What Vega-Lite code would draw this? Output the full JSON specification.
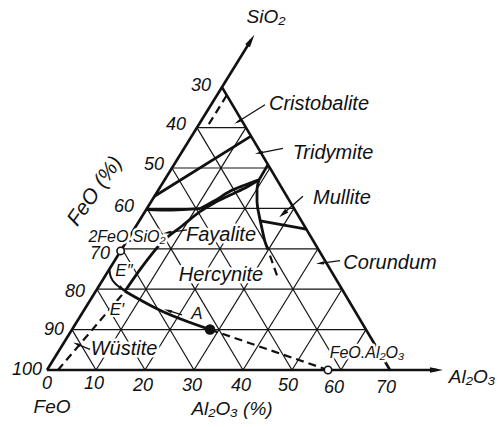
{
  "$schema": "https://vega.github.io/schema/vega-lite/v6.json",
  "width": 500,
  "height": 427,
  "autosize": "none",
  "padding": 0,
  "background": "white",
  "config": {"view": {"stroke": null}},
  "datasets": {
    "lines": [
      {"id": "g_s10", "k": "grid", "o": 1, "h": 5.1, "s": 10}, {"id": "g_s10", "k": "grid", "o": 2, "h": 65.1, "s": 10},
      {"id": "g_s20", "k": "grid", "o": 1, "h": 10.2, "s": 20}, {"id": "g_s20", "k": "grid", "o": 2, "h": 60.2, "s": 20},
      {"id": "g_s30", "k": "grid", "o": 1, "h": 15.3, "s": 30}, {"id": "g_s30", "k": "grid", "o": 2, "h": 55.3, "s": 30},
      {"id": "g_s40", "k": "grid", "o": 1, "h": 20.4, "s": 40}, {"id": "g_s40", "k": "grid", "o": 2, "h": 50.4, "s": 40},
      {"id": "g_s50", "k": "grid", "o": 1, "h": 25.5, "s": 50}, {"id": "g_s50", "k": "grid", "o": 2, "h": 45.5, "s": 50},
      {"id": "g_s60", "k": "grid", "o": 1, "h": 30.6, "s": 60}, {"id": "g_s60", "k": "grid", "o": 2, "h": 40.6, "s": 60},
      {"id": "g_a10", "k": "grid", "o": 1, "h": 10, "s": 0}, {"id": "g_a10", "k": "grid", "o": 2, "h": 40.6, "s": 60},
      {"id": "g_a20", "k": "grid", "o": 1, "h": 20, "s": 0}, {"id": "g_a20", "k": "grid", "o": 2, "h": 45.5, "s": 50},
      {"id": "g_a30", "k": "grid", "o": 1, "h": 30, "s": 0}, {"id": "g_a30", "k": "grid", "o": 2, "h": 50.4, "s": 40},
      {"id": "g_a40", "k": "grid", "o": 1, "h": 40, "s": 0}, {"id": "g_a40", "k": "grid", "o": 2, "h": 55.3, "s": 30},
      {"id": "g_a50", "k": "grid", "o": 1, "h": 50, "s": 0}, {"id": "g_a50", "k": "grid", "o": 2, "h": 60.2, "s": 20},
      {"id": "g_a60", "k": "grid", "o": 1, "h": 60, "s": 0}, {"id": "g_a60", "k": "grid", "o": 2, "h": 65.1, "s": 10},
      {"id": "g_c10", "k": "grid", "o": 1, "h": 10, "s": 0}, {"id": "g_c10", "k": "grid", "o": 2, "h": 5.1, "s": 10},
      {"id": "g_c20", "k": "grid", "o": 1, "h": 20, "s": 0}, {"id": "g_c20", "k": "grid", "o": 2, "h": 10.2, "s": 20},
      {"id": "g_c30", "k": "grid", "o": 1, "h": 30, "s": 0}, {"id": "g_c30", "k": "grid", "o": 2, "h": 15.3, "s": 30},
      {"id": "g_c40", "k": "grid", "o": 1, "h": 40, "s": 0}, {"id": "g_c40", "k": "grid", "o": 2, "h": 20.4, "s": 40},
      {"id": "g_c50", "k": "grid", "o": 1, "h": 50, "s": 0}, {"id": "g_c50", "k": "grid", "o": 2, "h": 25.5, "s": 50},
      {"id": "g_c60", "k": "grid", "o": 1, "h": 60, "s": 0}, {"id": "g_c60", "k": "grid", "o": 2, "h": 30.6, "s": 60},
      {"id": "e_left", "k": "edge", "o": 1, "h": 0, "s": 0}, {"id": "e_left", "k": "edge", "o": 2, "h": 41.63, "s": 81.63},
      {"id": "e_bottom", "k": "edge", "o": 1, "h": 0, "s": 0}, {"id": "e_bottom", "k": "edge", "o": 2, "h": 79.49, "s": 0},
      {"id": "e_right", "k": "edge", "o": 1, "h": 35.7, "s": 70}, {"id": "e_right", "k": "edge", "o": 2, "h": 70, "s": 0},
      {"id": "b_A", "k": "bound", "o": 1, "h": 21.93, "s": 43}, {"id": "b_A", "k": "bound", "o": 2, "h": 41.63, "s": 57.9},
      {"id": "b_B", "k": "bound", "o": 1, "h": 20.26, "s": 39.72}, {"id": "b_B", "k": "bound", "o": 2, "h": 25.51, "s": 39.57}, {"id": "b_B", "k": "bound", "o": 3, "h": 31.22, "s": 39.92},
      {"id": "b_U", "k": "bound", "o": 1, "h": 31.22, "s": 39.92}, {"id": "b_U", "k": "bound", "o": 2, "h": 34.29, "s": 41.96}, {"id": "b_U", "k": "bound", "o": 3, "h": 37.35, "s": 44.24}, {"id": "b_U", "k": "bound", "o": 4, "h": 40.41, "s": 45.78}, {"id": "b_U", "k": "bound", "o": 5, "h": 43.27, "s": 47.07},
      {"id": "b_L", "k": "bound", "o": 1, "h": 15.9, "s": 19.5}, {"id": "b_L", "k": "bound", "o": 2, "h": 18.98, "s": 24.85}, {"id": "b_L", "k": "bound", "o": 3, "h": 23.67, "s": 31.87}, {"id": "b_L", "k": "bound", "o": 4, "h": 27.55, "s": 35.65}, {"id": "b_L", "k": "bound", "o": 5, "h": 31.22, "s": 39.18}, {"id": "b_L", "k": "bound", "o": 6, "h": 34.29, "s": 41.46}, {"id": "b_L", "k": "bound", "o": 7, "h": 37.76, "s": 43.51}, {"id": "b_L", "k": "bound", "o": 8, "h": 40.82, "s": 45.3}, {"id": "b_L", "k": "bound", "o": 9, "h": 43.27, "s": 47.07},
      {"id": "b_T", "k": "bound", "o": 1, "h": 43.27, "s": 47.07}, {"id": "b_T", "k": "bound", "o": 2, "h": 45.09, "s": 50.83},
      {"id": "b_M", "k": "bound", "o": 1, "h": 43.27, "s": 47.07}, {"id": "b_M", "k": "bound", "o": 2, "h": 42.86, "s": 44.84}, {"id": "b_M", "k": "bound", "o": 3, "h": 42.86, "s": 41.62}, {"id": "b_M", "k": "bound", "o": 4, "h": 43.27, "s": 38.41}, {"id": "b_M", "k": "bound", "o": 5, "h": 43.88, "s": 34.96}, {"id": "b_M", "k": "bound", "o": 6, "h": 44.49, "s": 31.75}, {"id": "b_M", "k": "bound", "o": 7, "h": 45.1, "s": 29.78},
      {"id": "b_MC", "k": "bound", "o": 1, "h": 43.53, "s": 36.93}, {"id": "b_MC", "k": "bound", "o": 2, "h": 52.91, "s": 34.88},
      {"id": "b_W", "k": "bound", "o": 1, "h": 15.9, "s": 19.5}, {"id": "b_W", "k": "bound", "o": 2, "h": 23.06, "s": 14.78}, {"id": "b_W", "k": "bound", "o": 3, "h": 33.27, "s": 10.01},
      {"id": "b_E2", "k": "arc", "o": 1, "h": 12.74, "s": 24.98}, {"id": "b_E2", "k": "arc", "o": 2, "h": 12.86, "s": 23.0}, {"id": "b_E2", "k": "arc", "o": 3, "h": 13.88, "s": 21.29}, {"id": "b_E2", "k": "arc", "o": 4, "h": 15.1, "s": 20.3}, {"id": "b_E2", "k": "arc", "o": 5, "h": 15.9, "s": 19.5},
      {"id": "d_top", "k": "dash", "o": 1, "h": 36.68, "s": 68}, {"id": "d_top", "k": "dash", "o": 2, "h": 32.5, "s": 59.8},
      {"id": "d_left", "k": "dash", "o": 1, "h": 15.3, "s": 18.6}, {"id": "d_left", "k": "dash", "o": 2, "h": 2.24, "s": 0},
      {"id": "d_A", "k": "dash", "o": 1, "h": 33.27, "s": 10.01}, {"id": "d_A", "k": "dash", "o": 2, "h": 57.35, "s": 0},
      {"id": "d_M", "k": "dash", "o": 1, "h": 45.51, "s": 28.3}, {"id": "d_M", "k": "dash", "o": 2, "h": 46.94, "s": 23.38},
      {"id": "l_cr", "k": "leader", "o": 1, "h": 44.49, "s": 65.66}, {"id": "l_cr", "k": "leader", "o": 2, "h": 38.86, "s": 61.38},
      {"id": "l_tr", "k": "leader", "o": 1, "h": 48.16, "s": 54.84}, {"id": "l_tr", "k": "leader", "o": 2, "h": 43.24, "s": 53.68},
      {"id": "l_mu", "k": "leader", "o": 1, "h": 52.24, "s": 43.03}, {"id": "l_mu", "k": "leader", "o": 2, "h": 48.16, "s": 38.65},
      {"id": "l_co", "k": "leader", "o": 1, "h": 59.8, "s": 27.08}, {"id": "l_co", "k": "leader", "o": 2, "h": 55.71, "s": 26.39},
      {"id": "l_wu", "k": "leader", "o": 1, "h": 8.78, "s": 5.11}, {"id": "l_wu", "k": "leader", "o": 2, "h": 6.06, "s": 6.42},
      {"id": "l_fa", "k": "leader", "o": 1, "h": 28.57, "s": 34.68}, {"id": "l_fa", "k": "leader", "o": 2, "h": 24.49, "s": 33.98},
      {"id": "l_a", "k": "leader", "o": 1, "h": 27.55, "s": 13.62}, {"id": "l_a", "k": "leader", "o": 2, "h": 24.65, "s": 14.73}
    ],
    "heads": [
      {"id": "si", "h": 41.63, "s": 81.63},
      {"id": "al", "h": 79.49, "s": 0},
      {"id": "cr", "h": 38.86, "s": 61.38},
      {"id": "tr", "h": 43.24, "s": 53.68},
      {"id": "mu", "h": 48.16, "s": 38.65},
      {"id": "co", "h": 55.71, "s": 26.39},
      {"id": "wu", "h": 6.06, "s": 6.42},
      {"id": "fa", "h": 24.49, "s": 33.98},
      {"id": "a", "h": 24.65, "s": 14.73},
      {"id": "e2", "h": 15.41, "s": 20.0}
    ],
    "pts": [
      {"id": "2FeO.SiO2", "h": 15.03, "s": 29.48},
      {"id": "FeO.Al2O3", "h": 57.35, "s": 0},
      {"id": "A", "h": 33.27, "s": 10.01}
    ],
    "labels": [
      {"g": "phase", "t": "Cristobalite", "h": 55.51, "s": 65.86},
      {"g": "phase", "t": "Tridymite", "h": 58.37, "s": 53.78},
      {"g": "phase", "t": "Mullite", "h": 60.2, "s": 42.68},
      {"g": "phase", "t": "Corundum", "h": 70.0, "s": 26.52},
      {"g": "phase", "t": "Fayalite", "h": 35.51, "s": 33.32},
      {"g": "phase", "t": "Hercynite", "h": 35.51, "s": 23.42},
      {"g": "phase", "t": "Wüstite", "h": 15.71, "s": 5.24},
      {"g": "num", "t": "30", "h": 31.43, "s": 70.37},
      {"g": "num", "t": "40", "h": 26.33, "s": 60.63},
      {"g": "num", "t": "50", "h": 21.84, "s": 50.64},
      {"g": "num", "t": "60", "h": 15.71, "s": 40.39},
      {"g": "num", "t": "70", "h": 10.82, "s": 28.66},
      {"g": "num", "t": "80", "h": 5.71, "s": 19.41},
      {"g": "num", "t": "90", "h": 1.43, "s": 9.93},
      {"g": "num", "t": "100", "h": -4.08, "s": -0.07},
      {"g": "num", "t": "0", "h": 0, "s": -3.47},
      {"g": "num", "t": "10", "h": 9.59, "s": -3.54},
      {"g": "num", "t": "20", "h": 19.59, "s": -3.85},
      {"g": "num", "t": "30", "h": 29.59, "s": -3.92},
      {"g": "num", "t": "40", "h": 39.59, "s": -3.98},
      {"g": "num", "t": "50", "h": 49.18, "s": -4.06},
      {"g": "num", "t": "60", "h": 58.57, "s": -4.38},
      {"g": "num", "t": "70", "h": 69.18, "s": -4.43},
      {"g": "axis", "t": "SiO₂", "h": 44.69, "s": 87.45},
      {"g": "axis", "t": "Al₂O₃", "h": 86.73, "s": -1.64},
      {"g": "axis", "t": "FeO", "h": 1.02, "s": -9.14},
      {"g": "axis", "t": "Al₂O₃ (%)", "h": 37.76, "s": -9.71},
      {"g": "comp", "t": "2FeO.SiO₂", "h": 16.33, "s": 32.97},
      {"g": "comp", "t": "FeO.Al₂O₃", "h": 65.31, "s": 4.16},
      {"g": "pt", "t": "A", "h": 30.61, "s": 13.92},
      {"g": "pt", "t": "E″", "h": 15.71, "s": 24.54},
      {"g": "pt", "t": "E′", "h": 14.29, "s": 14.74},
      {"g": "rot", "t": "FeO (%)", "h": 9.8, "s": 44.24}
    ]
  },
  "encoding": {
    "x": {"field": "h", "type": "quantitative", "scale": {"domain": [-9.592, 92.449], "nice": false, "zero": false}, "axis": null},
    "y": {"field": "s", "type": "quantitative", "scale": {"domain": [-14.109, 91.584], "nice": false, "zero": false}, "axis": null}
  },
  "layer": [
    {"data": {"name": "lines"}, "transform": [{"filter": "datum.k == 'grid'"}],
     "mark": {"type": "line", "color": "#151515", "strokeWidth": 1.2},
     "encoding": {"detail": {"field": "id"}, "order": {"field": "o"}}},
    {"data": {"name": "lines"}, "transform": [{"filter": "datum.k == 'edge'"}],
     "mark": {"type": "line", "color": "#111111", "strokeWidth": 2.6},
     "encoding": {"detail": {"field": "id"}, "order": {"field": "o"}}},
    {"data": {"name": "lines"}, "transform": [{"filter": "datum.k == 'bound'"}],
     "mark": {"type": "line", "color": "#111111", "strokeWidth": 2.8, "strokeJoin": "round", "interpolate": "monotone"},
     "encoding": {"detail": {"field": "id"}, "order": {"field": "o"}}},
    {"data": {"name": "lines"}, "transform": [{"filter": "datum.k == 'arc'"}],
     "mark": {"type": "line", "color": "#111111", "strokeWidth": 2, "interpolate": "basis"},
     "encoding": {"detail": {"field": "id"}, "order": {"field": "o"}}},
    {"data": {"name": "lines"}, "transform": [{"filter": "datum.k == 'dash'"}],
     "mark": {"type": "line", "color": "#111111", "strokeWidth": 2.2, "strokeDash": [8, 5]},
     "encoding": {"detail": {"field": "id"}, "order": {"field": "o"}}},
    {"data": {"name": "labels"}, "transform": [{"filter": "datum.g == 'phase'"}],
     "mark": {"type": "text", "font": "Liberation Sans", "fontStyle": "italic", "fontSize": 20, "align": "center", "baseline": "middle", "fill": "white", "stroke": "white", "strokeWidth": 5, "strokeJoin": "round"},
     "encoding": {"text": {"field": "t"}}},
    {"data": {"name": "labels"}, "transform": [{"filter": "datum.g == 'comp'"}],
     "mark": {"type": "text", "font": "Liberation Sans", "fontStyle": "italic", "fontSize": 16, "align": "center", "baseline": "middle", "fill": "white", "stroke": "white", "strokeWidth": 5, "strokeJoin": "round"},
     "encoding": {"text": {"field": "t"}}},
    {"data": {"name": "labels"}, "transform": [{"filter": "datum.g == 'pt'"}],
     "mark": {"type": "text", "font": "Liberation Sans", "fontStyle": "italic", "fontSize": 17, "align": "center", "baseline": "middle", "fill": "white", "stroke": "white", "strokeWidth": 4, "strokeJoin": "round"},
     "encoding": {"text": {"field": "t"}}},
    {"data": {"name": "lines"}, "transform": [{"filter": "datum.k == 'leader'"}],
     "mark": {"type": "line", "color": "#111111", "strokeWidth": 1.3},
     "encoding": {"detail": {"field": "id"}, "order": {"field": "o"}}},
    {"data": {"name": "heads"}, "transform": [{"filter": "datum.id == 'si'"}],
     "mark": {"type": "point", "shape": "M0,-1L0.42,1L-0.42,1Z", "size": 170, "angle": 31.7, "filled": true, "color": "#111111", "opacity": 1}},
    {"data": {"name": "heads"}, "transform": [{"filter": "datum.id == 'al'"}],
     "mark": {"type": "point", "shape": "M0,-1L0.42,1L-0.42,1Z", "size": 170, "angle": 90, "filled": true, "color": "#111111", "opacity": 1}},
    {"data": {"name": "heads"}, "transform": [{"filter": "datum.id == 'cr'"}],
     "mark": {"type": "point", "shape": "M0,-1L0.4,1L-0.4,1Z", "size": 50, "angle": -121.5, "filled": true, "color": "#111111", "opacity": 1}},
    {"data": {"name": "heads"}, "transform": [{"filter": "datum.id == 'tr'"}],
     "mark": {"type": "point", "shape": "M0,-1L0.4,1L-0.4,1Z", "size": 64, "angle": -100, "filled": true, "color": "#111111", "opacity": 1}},
    {"data": {"name": "heads"}, "transform": [{"filter": "datum.id == 'mu'"}],
     "mark": {"type": "point", "shape": "M0,-1L0.5,1L-0.5,1Z", "size": 100, "angle": -131, "filled": true, "color": "#111111", "opacity": 1}},
    {"data": {"name": "heads"}, "transform": [{"filter": "datum.id == 'co'"}],
     "mark": {"type": "point", "shape": "M0,-1L0.4,1L-0.4,1Z", "size": 64, "angle": -97, "filled": true, "color": "#111111", "opacity": 1}},
    {"data": {"name": "heads"}, "transform": [{"filter": "datum.id == 'wu'"}],
     "mark": {"type": "point", "shape": "M0,-1L0.4,1L-0.4,1Z", "size": 64, "angle": -67.6, "filled": true, "color": "#111111", "opacity": 1}},
    {"data": {"name": "heads"}, "transform": [{"filter": "datum.id == 'fa'"}],
     "mark": {"type": "point", "shape": "M0,-1L0.4,1L-0.4,1Z", "size": 64, "angle": -97, "filled": true, "color": "#111111", "opacity": 1}},
    {"data": {"name": "heads"}, "transform": [{"filter": "datum.id == 'a'"}],
     "mark": {"type": "point", "shape": "M0,-1L0.4,1L-0.4,1Z", "size": 64, "angle": -71.6, "filled": true, "color": "#111111", "opacity": 1}},
    {"data": {"name": "heads"}, "transform": [{"filter": "datum.id == 'e2'"}],
     "mark": {"type": "point", "shape": "M0,-1L0.5,1L-0.5,1Z", "size": 64, "angle": 127, "filled": true, "color": "#111111", "opacity": 1}},
    {"data": {"name": "pts"}, "transform": [{"filter": "datum.id != 'A'"}],
     "mark": {"type": "point", "shape": "circle", "size": 55, "filled": false, "fill": "white", "fillOpacity": 1, "stroke": "#111111", "strokeWidth": 1.6, "opacity": 1}},
    {"data": {"name": "pts"}, "transform": [{"filter": "datum.id == 'A'"}],
     "mark": {"type": "point", "shape": "circle", "size": 110, "filled": true, "color": "#111111", "opacity": 1}},
    {"data": {"name": "labels"}, "transform": [{"filter": "datum.g == 'phase'"}],
     "mark": {"type": "text", "font": "Liberation Sans", "fontStyle": "italic", "fontSize": 20, "align": "center", "baseline": "middle", "color": "#111111"},
     "encoding": {"text": {"field": "t"}}},
    {"data": {"name": "labels"}, "transform": [{"filter": "datum.g == 'num'"}],
     "mark": {"type": "text", "font": "Liberation Sans", "fontStyle": "italic", "fontSize": 18, "align": "center", "baseline": "middle", "color": "#111111"},
     "encoding": {"text": {"field": "t"}}},
    {"data": {"name": "labels"}, "transform": [{"filter": "datum.g == 'axis'"}],
     "mark": {"type": "text", "font": "Liberation Sans", "fontStyle": "italic", "fontSize": 19, "align": "center", "baseline": "middle", "color": "#111111"},
     "encoding": {"text": {"field": "t"}}},
    {"data": {"name": "labels"}, "transform": [{"filter": "datum.g == 'comp'"}],
     "mark": {"type": "text", "font": "Liberation Sans", "fontStyle": "italic", "fontSize": 16, "align": "center", "baseline": "middle", "color": "#111111"},
     "encoding": {"text": {"field": "t"}}},
    {"data": {"name": "labels"}, "transform": [{"filter": "datum.g == 'pt'"}],
     "mark": {"type": "text", "font": "Liberation Sans", "fontStyle": "italic", "fontSize": 17, "align": "center", "baseline": "middle", "color": "#111111"},
     "encoding": {"text": {"field": "t"}}},
    {"data": {"name": "labels"}, "transform": [{"filter": "datum.g == 'rot'"}],
     "mark": {"type": "text", "font": "Liberation Sans", "fontStyle": "italic", "fontSize": 21, "align": "center", "baseline": "middle", "angle": -55, "color": "#111111"},
     "encoding": {"text": {"field": "t"}}}
  ]
}
